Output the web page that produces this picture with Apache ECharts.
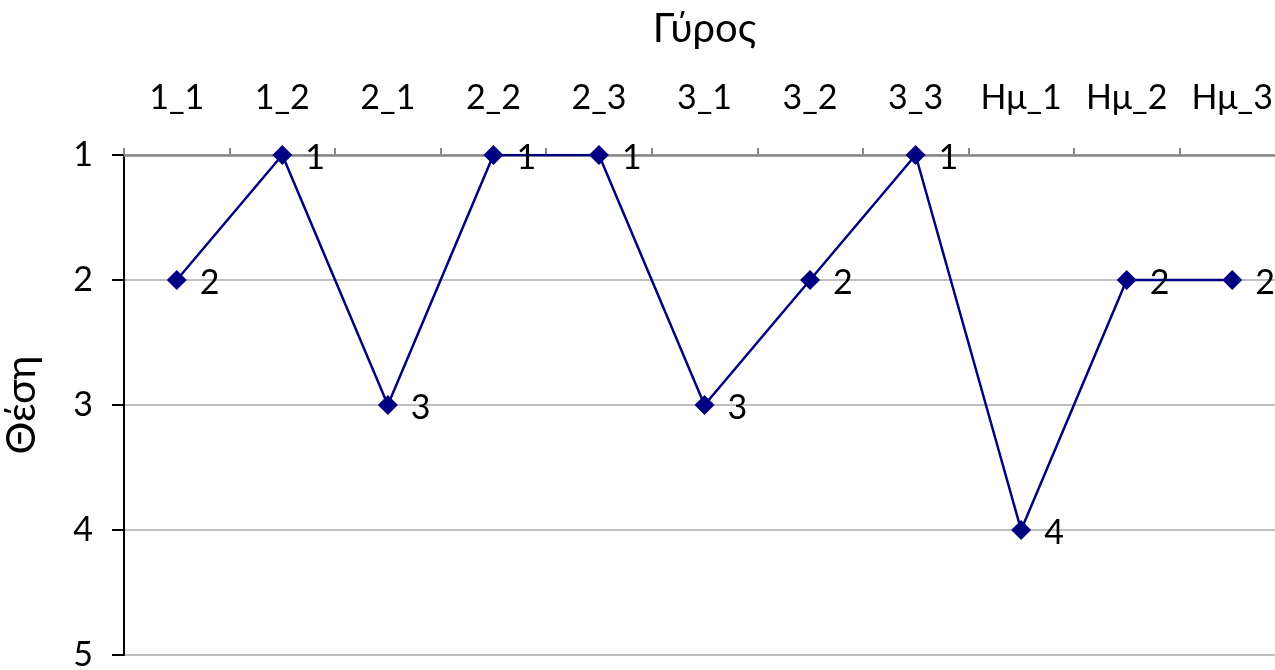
<!DOCTYPE html>
<html>
<head>
<meta charset="utf-8">
<script src="https://cdn.jsdelivr.net/npm/echarts@6/dist/echarts.min.js"></script>
<style>html,body{margin:0;padding:0;background:#fff;}#c{width:1275px;height:670px;}</style>
</head>
<body>
<div id="c"></div>
<script>
const categories = ['1_1','1_2','2_1','2_2','2_3','3_1','3_2','3_3','Ημ_1','Ημ_2','Ημ_3'];
const positions = [2,1,3,1,1,3,2,1,4,2,2];
const xTitle = 'Γύρος';
const yTitle = 'Θέση';

const FONT = 'Lato';
const chart = echarts.init(document.getElementById('c'), null, {renderer:'canvas'});
chart.setOption({
  animation: false,
  backgroundColor: '#ffffff',
  grid: {left: 124, top: 155, right: -10, bottom: 15, containLabel: false, outerBoundsMode: 'none'},
  xAxis: {
    type: 'category',
    position: 'top',
    data: categories,
    boundaryGap: true,
    name: xTitle,
    nameLocation: 'middle',
    nameGap: 106,
    nameTextStyle: {fontFamily: FONT, fontSize: 40, color: '#000'},
    axisLine: {show: true, lineStyle: {color: '#868686', width: 2.5}},
    axisTick: {show: true, length: 7, lineStyle: {color: '#868686', width: 2}},
    axisLabel: {fontFamily: FONT, fontSize: 34, color: '#000', margin: 40, interval: 0},
    splitLine: {show: false}
  },
  yAxis: {
    type: 'value',
    inverse: true,
    min: 1, max: 5, interval: 1,
    name: yTitle,
    nameLocation: 'middle',
    nameGap: 82,
    nameRotate: 90,
    nameTextStyle: {fontFamily: FONT, fontSize: 41, color: '#000'},
    axisLine: {show: true, onZero: false, lineStyle: {color: '#000', width: 2}},
    axisTick: {show: true, length: 12, lineStyle: {color: '#000', width: 2}},
    axisLabel: {fontFamily: FONT, fontSize: 34, color: '#000', margin: 31},
    splitLine: {show: true, lineStyle: {color: '#c0c0c0', width: 2}}
  },
  series: [{
    type: 'line',
    data: positions,
    symbol: 'diamond',
    symbolSize: 20,
    itemStyle: {color: '#000080'},
    lineStyle: {color: '#000080', width: 2.5},
    label: {show: true, position: 'right', distance: 13, fontFamily: FONT, fontSize: 34, color: '#000', offset: [0, 3]}
  }]
});
</script>
</body>
</html>
